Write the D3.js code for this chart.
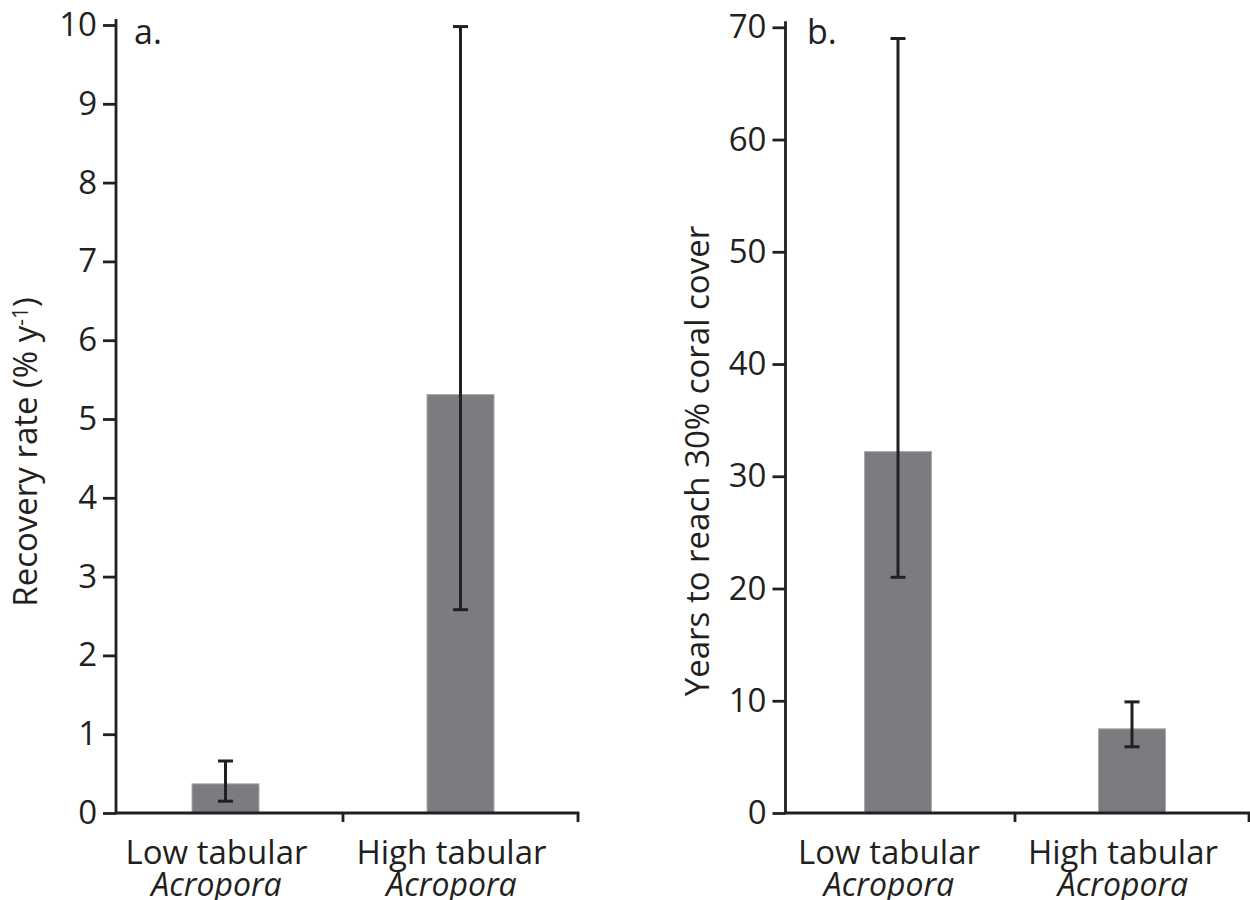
<!DOCTYPE html>
<html>
<head>
<meta charset="utf-8">
<script src="https://cdn.jsdelivr.net/npm/d3@7"></script>
<style>
  body { margin: 0; background: #fff; }
  svg { display: block; }
  text { font-family: "Open Sans", "Noto Sans", sans-serif; fill: #231f20; }
</style>
</head>
<body>
<svg id="chart" width="1250" height="900"></svg>
<script>
// categories (two lines per label)
const categories = ["Low tabular", "High tabular"];
const genus = "Acropora";

// panel a: recovery rate (% per year)
const rateMean = [0.37, 5.31];
const rateLow = [0.15, 2.58];
const rateHigh = [0.66, 9.98];
const rateTicks = [0, 1, 2, 3, 4, 5, 6, 7, 8, 9, 10];

// panel b: years to reach 30% coral cover
const yearsMean = [32.2, 7.5];
const yearsLow = [21.0, 5.9];
const yearsHigh = [69.0, 9.9];
const yearsTicks = [0, 10, 20, 30, 40, 50, 60, 70];

const ink = "#231f20";
const barFill = "#7b7c80";
const svg = d3.select("#chart");

function drawPanel(opts) {
    const g = svg.append("g");
    const y = d3.scaleLinear().domain(opts.domain).range([813, opts.top]);
    const x = d3.scaleBand().domain(categories).range(opts.xRange);
    const ax = opts.axisX;

    // bars
    g.selectAll("rect.bar")
        .data(categories)
        .enter()
        .append("rect")
        .attr("class", "bar")
        .attr("x", d => x(d) + x.bandwidth() / 2 - 33.5)
        .attr("width", 67)
        .attr("y", (d, i) => y(opts.mean[i]))
        .attr("height", (d, i) => y(0) - y(opts.mean[i]))
        .attr("fill", barFill)
        .attr("stroke", "#a9aaad")
        .attr("stroke-width", 1);

    // error bars
    const err = g.selectAll("g.err")
        .data(categories)
        .enter()
        .append("g")
        .attr("class", "err")
        .attr("transform", d => "translate(" + (x(d) + x.bandwidth() / 2) + ",0)")
        .attr("stroke", ink)
        .attr("stroke-width", 3);
    err.append("line")
        .attr("y1", (d, i) => y(opts.low[i]))
        .attr("y2", (d, i) => y(opts.high[i]));
    err.append("line")
        .attr("x1", -7.5).attr("x2", 7.5)
        .attr("y1", (d, i) => y(opts.low[i]))
        .attr("y2", (d, i) => y(opts.low[i]));
    err.append("line")
        .attr("x1", -7.5).attr("x2", 7.5)
        .attr("y1", (d, i) => y(opts.high[i]))
        .attr("y2", (d, i) => y(opts.high[i]));

    // y axis
    const yAxis = g.append("g")
        .attr("transform", "translate(" + ax + ",0)")
        .call(d3.axisLeft(y).tickValues(opts.ticks).tickSize(13).tickSizeOuter(0).tickPadding(6));
    yAxis.select(".domain").remove();
    yAxis.selectAll(".tick line").attr("stroke", ink).attr("stroke-width", 2.8);
    yAxis.selectAll(".tick text")
        .style("font-size", "33px")
        .attr("fill", ink);
    g.append("line")
        .attr("x1", ax).attr("x2", ax)
        .attr("y1", y(0)).attr("y2", y(opts.domain[1]) - 6)
        .attr("stroke", ink).attr("stroke-width", 2.8);

    // x axis with ticks at category boundaries
    g.append("line")
        .attr("x1", ax - 1).attr("x2", opts.xRange[1] + 1.4)
        .attr("y1", y(0)).attr("y2", y(0))
        .attr("stroke", ink).attr("stroke-width", 2.8);
    g.selectAll("line.xtick")
        .data(categories)
        .enter()
        .append("line")
        .attr("class", "xtick")
        .attr("x1", d => x(d) + x.bandwidth())
        .attr("x2", d => x(d) + x.bandwidth())
        .attr("y1", y(0)).attr("y2", y(0) + 9)
        .attr("stroke", ink).attr("stroke-width", 2.8);

    // category labels
    const lab = g.selectAll("text.cat")
        .data(categories)
        .enter()
        .append("text")
        .attr("class", "cat")
        .attr("text-anchor", "middle")
        .style("font-size", "33px");
    lab.append("tspan")
        .attr("x", d => x(d) + x.bandwidth() / 2 - 9)
        .attr("y", 864)
        .text(d => d);
    lab.append("tspan")
        .attr("x", d => x(d) + x.bandwidth() / 2 - 9)
        .attr("y", 896)
        .style("font-style", "italic")
        .style("font-size", "32px")
        .text(genus);

    // panel letter
    g.append("text")
        .attr("x", opts.letterX)
        .attr("y", 44)
        .style("font-size", "34px")
        .text(opts.letter);

    // y axis title
    const title = g.append("text")
        .attr("transform", "translate(" + opts.titleX + "," + opts.titleY + ") rotate(-90)")
        .attr("text-anchor", "middle")
        .style("font-size", "33px");
    opts.title(title);
}

drawPanel({
    domain: [0, 10], top: 25, ticks: rateTicks,
    mean: rateMean, low: rateLow, high: rateHigh,
    xRange: [108, 578], axisX: 116,
    letter: "a.", letterX: 134,
    titleX: 37, titleY: 452,
    title: t => {
        t.append("tspan").text("Recovery rate (% y");
        t.append("tspan").attr("dy", "-0.45em").style("font-size", "21px").text("-1");
        t.append("tspan").attr("dy", "0.3em").text(")");
    }
});

drawPanel({
    domain: [0, 70], top: 27.3, ticks: yearsTicks,
    mean: yearsMean, low: yearsLow, high: yearsHigh,
    xRange: [781, 1249], axisX: 785.5,
    letter: "b.", letterX: 807,
    titleX: 709, titleY: 461,
    title: t => t.text("Years to reach 30% coral cover")
});
</script>
</body>
</html>
